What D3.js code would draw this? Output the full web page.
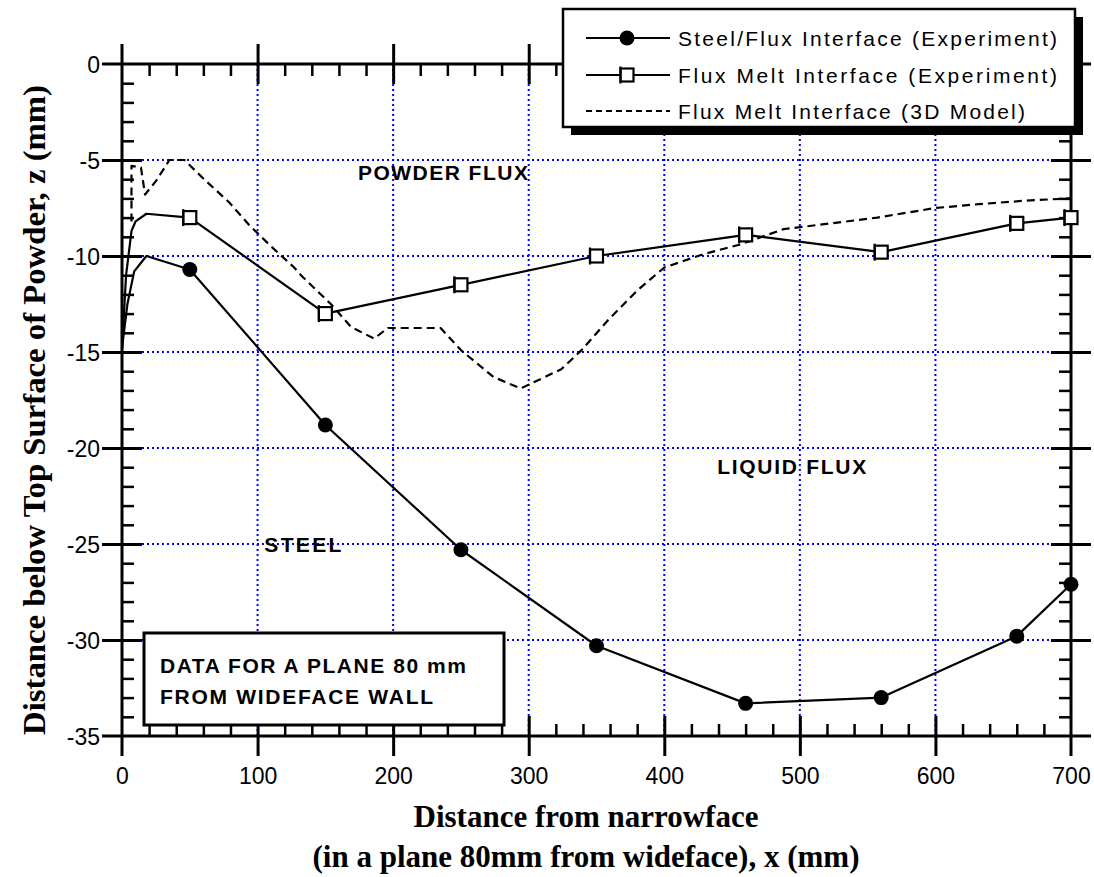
<!DOCTYPE html>
<html>
<head>
<meta charset="utf-8">
<script src="https://cdn.jsdelivr.net/npm/d3@7"></script>
<style>
  html, body { margin: 0; padding: 0; background: #fff; }
  svg { display: block; }
</style>
</head>
<body>
<svg id="chart" width="1094" height="877"></svg>
<script>
// ---------------- DATA ----------------
const xTickValues = [0, 100, 200, 300, 400, 500, 600, 700];
const yTickValues = [0, -5, -10, -15, -20, -25, -30, -35];
const xGridValues = [100, 200, 300, 400, 500, 600];
const yGridValues = [-5, -10, -15, -20, -25, -30];

// Steel/Flux interface (experiment): lead-in near the narrowface, then measured points
const steelLeadX = [0, 4, 9, 18, 50];
const steelLeadZ = [-14.8, -12.5, -10.8, -10.0, -10.7];
const steelX = [50, 150, 250, 350, 460, 560, 660, 700];
const steelZ = [-10.7, -18.8, -25.3, -30.3, -33.3, -33.0, -29.8, -27.1];

// Flux melt interface (experiment)
const fluxLeadX = [0, 3, 7, 10, 18, 50];
const fluxLeadZ = [-14.9, -11.0, -8.7, -8.2, -7.8, -8.0];
const fluxX = [50, 150, 250, 350, 460, 560, 660, 700];
const fluxZ = [-8.0, -13.0, -11.5, -10.0, -8.9, -9.8, -8.3, -8.0];

// Flux melt interface (3D model)
const modelX = [7, 7, 14, 17, 25, 35, 46, 62, 79, 94, 110, 127, 132, 154, 169, 186, 196, 235, 250, 274, 294, 324, 339, 359, 380, 400, 429, 456, 488, 523, 557, 600, 632, 670, 700];
const modelZ = [-8.2, -5.3, -5.4, -6.8, -6.1, -5.0, -5.0, -6.1, -7.2, -8.4, -9.5, -10.6, -11.0, -12.5, -13.7, -14.3, -13.75, -13.75, -14.9, -16.3, -16.9, -15.9, -14.9, -13.3, -11.8, -10.6, -9.9, -9.4, -8.6, -8.3, -8.0, -7.5, -7.3, -7.1, -7.0];

const legendLabels = ["Steel/Flux Interface (Experiment)", "Flux Melt Interface (Experiment)", "Flux Melt Interface (3D Model)"];
const regionLabels = ["POWDER FLUX", "LIQUID FLUX", "STEEL"];
const regionX = [174, 439, 105];
const regionZ = [-5.65, -20.95, -25.0];
const noteLines = ["DATA FOR A PLANE 80 mm", "FROM WIDEFACE WALL"];
const xTitleLines = ["Distance from narrowface", "(in a plane 80mm from wideface), x (mm)"];
const yTitle = "Distance below Top Surface of Powder, z (mm)";

// ---------------- LAYOUT ----------------
const svg = d3.select("#chart");
const X0 = 122, X1 = 1071, Y0 = 64, Y1 = 736;
const x = d3.scaleLinear().domain([0, 700]).range([X0, X1]);
const y = d3.scaleLinear().domain([0, -35]).range([Y0, Y1]);

const sans = "'Liberation Sans', Arial, sans-serif";
const serif = "'Liberation Serif', 'Times New Roman', serif";

// Grid
const grid = svg.append("g");
grid.selectAll("line.vg").data(xGridValues).join("line")
  .attr("x1", d => x(d)).attr("x2", d => x(d))
  .attr("y1", Y0).attr("y2", Y1)
  .attr("stroke", "#0000ff").attr("stroke-width", 2).attr("stroke-dasharray", "2,3");
grid.selectAll("line.hg").data(yGridValues).join("line")
  .attr("y1", d => y(d)).attr("y2", d => y(d))
  .attr("x1", X0).attr("x2", X1)
  .attr("stroke", "#0000ff").attr("stroke-width", 2).attr("stroke-dasharray", "2,3");

// Axes (four sides, extended beyond corners)
const ax = svg.append("g").attr("stroke", "#000");
const ext = 20;
ax.append("line").attr("x1", X0 - ext).attr("x2", X1 + ext).attr("y1", Y0).attr("y2", Y0).attr("stroke-width", 3);
ax.append("line").attr("x1", X0 - ext).attr("x2", X1 + ext).attr("y1", Y1).attr("y2", Y1).attr("stroke-width", 3);
ax.append("line").attr("y1", Y0 - ext).attr("y2", Y1 + ext).attr("x1", X0).attr("x2", X0).attr("stroke-width", 3);
ax.append("line").attr("y1", Y0 - ext).attr("y2", Y1 + ext).attr("x1", X1).attr("x2", X1).attr("stroke-width", 3);

// Ticks with d3 axes
const minorX = d3.range(0, 701, 20).filter(v => v % 100 !== 0);
const minorY = d3.range(0, -35.01, -1).filter(v => Math.abs(v) % 5 !== 0);
const majX = xTickValues.slice(1, -1);
const majY = yTickValues.slice(1, -1);

function styleAxis(g, w) {
  g.select(".domain").remove();
  g.selectAll(".tick line").attr("stroke", "#000").attr("stroke-width", w);
  g.selectAll(".tick text").remove();
}
// minor ticks (inward)
svg.append("g").attr("transform", `translate(0,${Y1})`).call(d3.axisBottom(x).tickValues(minorX).tickSize(-12)).call(g => styleAxis(g, 2.5));
svg.append("g").attr("transform", `translate(0,${Y0})`).call(d3.axisTop(x).tickValues(minorX).tickSize(-12)).call(g => styleAxis(g, 2.5));
svg.append("g").attr("transform", `translate(${X0},0)`).call(d3.axisLeft(y).tickValues(minorY).tickSize(-12)).call(g => styleAxis(g, 2.5));
svg.append("g").attr("transform", `translate(${X1},0)`).call(d3.axisRight(y).tickValues(minorY).tickSize(-12)).call(g => styleAxis(g, 2.5));
// major ticks (crossing)
svg.append("g").attr("transform", `translate(0,${Y1 + ext})`).call(d3.axisBottom(x).tickValues(majX).tickSize(-2 * ext)).call(g => styleAxis(g, 3));
svg.append("g").attr("transform", `translate(0,${Y0 + ext})`).call(d3.axisBottom(x).tickValues(majX).tickSize(-2 * ext)).call(g => styleAxis(g, 3));
svg.append("g").attr("transform", `translate(${X0 + ext},0)`).call(d3.axisLeft(y).tickValues(majY).tickSize(2 * ext)).call(g => styleAxis(g, 3));
svg.append("g").attr("transform", `translate(${X1 + ext},0)`).call(d3.axisLeft(y).tickValues(majY).tickSize(2 * ext)).call(g => styleAxis(g, 3));

// Tick labels
const xl = d3.axisBottom(x).tickValues(xTickValues).tickSize(0).tickPadding(0).tickFormat(d3.format("d"));
svg.append("g").attr("transform", `translate(0,${Y1 + 32})`).call(xl).call(g => {
  g.select(".domain").remove();
  g.selectAll("text").attr("font-family", sans).attr("font-size", 23).attr("fill", "#000").attr("dy", "0.71em");
});
const yl = d3.axisLeft(y).tickValues(yTickValues).tickSize(0).tickPadding(0).tickFormat(d => d === 0 ? "0" : "-" + Math.abs(d));
svg.append("g").attr("transform", `translate(${X0 - 22},0)`).call(yl).call(g => {
  g.select(".domain").remove();
  g.selectAll("text").attr("font-family", sans).attr("font-size", 23).attr("fill", "#000").attr("dy", "0.36em");
});

// Lines
const line = d3.line().x(d => x(d[0])).y(d => y(d[1]));
const zip = (a, b) => a.map((v, i) => [v, b[i]]);
const data = svg.append("g").attr("fill", "none").attr("stroke", "#000").attr("stroke-width", 2.2).attr("stroke-linejoin", "round");
data.append("path").attr("d", line(zip(modelX, modelZ))).attr("stroke-dasharray", "8,5");
data.append("path").attr("d", line(zip(steelLeadX, steelLeadZ)));
data.append("path").attr("d", line(zip(steelX, steelZ)));
data.append("path").attr("d", line(zip(fluxLeadX, fluxLeadZ)));
data.append("path").attr("d", line(zip(fluxX, fluxZ)));

// Markers
function circleMarker(g, cx, cy) {
  g.append("circle").attr("cx", cx).attr("cy", cy).attr("r", 7.5).attr("fill", "#000");
}
function squareMarker(g, cx, cy) {
  const s = 13;
  g.append("rect").attr("x", cx - s / 2).attr("y", cy - s / 2).attr("width", s).attr("height", s)
    .attr("fill", "#fff").attr("stroke", "#000").attr("stroke-width", 2.2);
  g.append("line").attr("x1", cx - s / 2).attr("x2", cx - s / 2).attr("y1", cy - s / 2 - 2).attr("y2", cy + s / 2 + 2)
    .attr("stroke", "#000").attr("stroke-width", 2.2);
}
const mk = svg.append("g");
zip(steelX, steelZ).forEach(d => circleMarker(mk, x(d[0]), y(d[1])));
zip(fluxX, fluxZ).forEach(d => squareMarker(mk, x(d[0]), y(d[1])));

// Region labels
const regionW = [170, 149, 77];
svg.append("g").selectAll("text").data(regionLabels).join("text")
  .attr("x", (d, i) => x(regionX[i])).attr("y", (d, i) => y(regionZ[i]))
  .attr("font-family", sans).attr("font-weight", "bold").attr("font-size", 21)
  .attr("textLength", (d, i) => regionW[i]).attr("lengthAdjust", "spacing")
  .attr("dy", "0.36em").text(d => d);

// Note box
const note = svg.append("g");
note.append("rect").attr("x", 144).attr("y", 633).attr("width", 360).attr("height", 92)
  .attr("fill", "#fff").attr("stroke", "#000").attr("stroke-width", 3);
const noteW = [306, 273];
note.selectAll("text").data(noteLines).join("text")
  .attr("x", 160).attr("y", (d, i) => 665 + i * 31)
  .attr("font-family", sans).attr("font-weight", "bold").attr("font-size", 21)
  .attr("textLength", (d, i) => noteW[i]).attr("lengthAdjust", "spacing")
  .attr("dy", "0.36em").text(d => d);

// Legend
const lg = svg.append("g");
const LX = 563, LY = 9, LW = 512, LH = 118;
lg.append("rect").attr("x", LX + 8).attr("y", LY + 8).attr("width", LW).attr("height", LH).attr("fill", "#000");
lg.append("rect").attr("x", LX).attr("y", LY).attr("width", LW).attr("height", LH).attr("fill", "#fff").attr("stroke", "#000").attr("stroke-width", 2.5);
const rowY = [38, 75, 111];
const sx0 = 586, sx1 = 670, sxm = 627;
lg.append("line").attr("x1", sx0).attr("x2", sx1).attr("y1", rowY[0]).attr("y2", rowY[0]).attr("stroke", "#000").attr("stroke-width", 2.2);
circleMarker(lg, sxm, rowY[0]);
lg.append("line").attr("x1", sx0).attr("x2", sx1).attr("y1", rowY[1]).attr("y2", rowY[1]).attr("stroke", "#000").attr("stroke-width", 2.2);
squareMarker(lg, sxm, rowY[1]);
lg.append("line").attr("x1", sx0).attr("x2", sx1).attr("y1", rowY[2]).attr("y2", rowY[2]).attr("stroke", "#000").attr("stroke-width", 2).attr("stroke-dasharray", "6,4");
const legendW = [379, 379, 347];
lg.selectAll("text").data(legendLabels).join("text")
  .attr("x", 678).attr("y", (d, i) => rowY[i])
  .attr("font-family", sans).attr("font-size", 21)
  .attr("textLength", (d, i) => legendW[i]).attr("lengthAdjust", "spacing")
  .attr("dy", "0.36em").text(d => d);

// Axis titles
svg.selectAll("text.xt").data(xTitleLines).join("text").attr("class", "xt")
  .attr("x", 586).attr("y", (d, i) => 827 + i * 40)
  .attr("text-anchor", "middle")
  .attr("font-family", serif).attr("font-weight", "bold").attr("font-size", 31)
  .text(d => d);

svg.append("text")
  .attr("transform", `translate(45,410) rotate(-90)`)
  .attr("text-anchor", "middle")
  .attr("font-family", serif).attr("font-weight", "bold").attr("font-size", 31)
  .attr("textLength", 650).attr("lengthAdjust", "spacingAndGlyphs")
  .text(yTitle);
</script>
</body>
</html>
